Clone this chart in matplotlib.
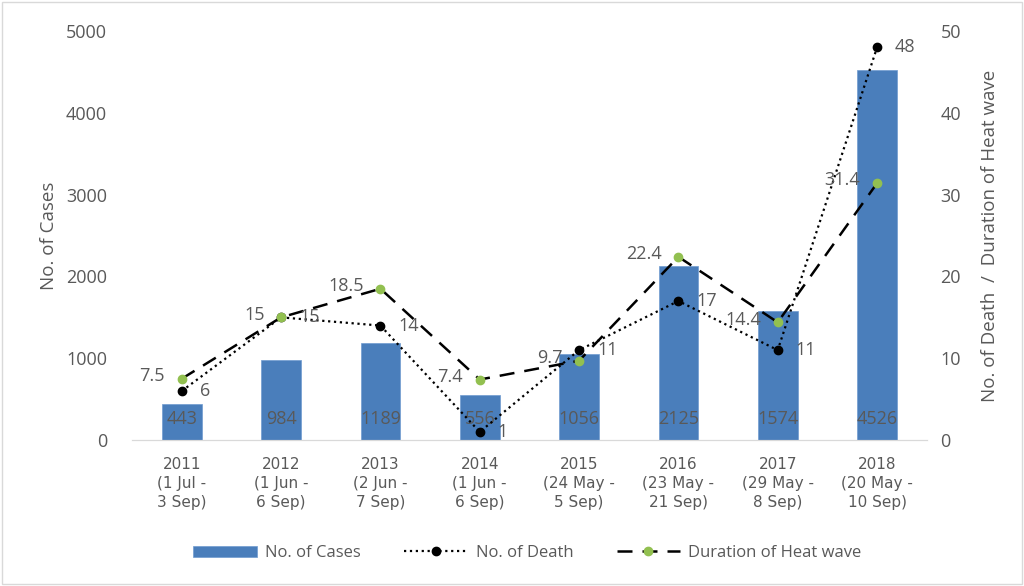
import matplotlib.pyplot as plt
from matplotlib.patches import Rectangle

years = ['2011', '2012', '2013', '2014', '2015', '2016', '2017', '2018']
periods = ['(1 Jul -\n3 Sep)', '(1 Jun -\n6 Sep)', '(2 Jun -\n7 Sep)', '(1 Jun -\n6 Sep)',
           '(24 May -\n5 Sep)', '(23 May -\n21 Sep)', '(29 May -\n8 Sep)', '(20 May -\n10 Sep)']
cases = [443, 984, 1189, 556, 1056, 2125, 1574, 4526]
deaths = [6, 15, 14, 1, 11, 17, 11, 48]
duration = [7.5, 15, 18.5, 7.4, 9.7, 22.4, 14.4, 31.4]

txt = '#595959'
plt.rcParams['font.family'] = ['Open Sans', 'DejaVu Sans']

fig = plt.figure(figsize=(10.24, 5.86), dpi=100)
ax = fig.add_axes([0.129, 0.249, 0.776, 0.698])
ax2 = ax.twinx()

x = list(range(len(years)))
bars = ax.bar(x, cases, width=0.4, color='#4a7ebb', edgecolor='#6f9bd0', linewidth=0.5,
              label='No. of Cases', zorder=2)
for xi, v in zip(x, cases):
    ax.text(xi, 260, str(v), ha='center', va='center', fontsize=13, color=txt, zorder=3)

ax.set_xlim(-0.5, 7.5)
ax.set_ylim(0, 5000)
ax2.set_ylim(0, 50)
ax.set_xticks(x)
ax.set_xticklabels([y + '\n' + p for y, p in zip(years, periods)],
                   fontsize=11, color=txt, family=['Liberation Sans Narrow', 'DejaVu Sans'],
                   linespacing=1.35)
ax.tick_params(axis='x', length=0, pad=12)
ax.tick_params(axis='y', length=0, labelsize=13, labelcolor=txt, pad=18)
ax2.tick_params(axis='y', length=0, labelsize=13, labelcolor=txt, pad=10)
ax.set_yticks(range(0, 5001, 1000))
ax2.set_yticks(range(0, 51, 10))
for a in (ax, ax2):
    for s in ['top', 'left', 'right']:
        a.spines[s].set_visible(False)
    a.spines['bottom'].set_color('#d9d9d9')

ax.set_ylabel('No. of Cases', fontsize=13.5, color=txt, labelpad=6)
ax2.set_ylabel('No. of Death  /  Duration of Heat wave', fontsize=13.5, color=txt, labelpad=14)

ld, = ax2.plot(x, deaths, color='black', linestyle=':', linewidth=1.6, marker='o',
               markersize=6, label='No. of Death', zorder=4)
lh, = ax2.plot(x, duration, color='black', linestyle=(0, (6, 4)), linewidth=1.8, marker='o',
               markersize=6, markerfacecolor='#92c050', markeredgecolor='#92c050',
               label='Duration of Heat wave', zorder=5)

for xi, v in zip(x, deaths):
    ax2.annotate(str(v), (xi, v), xytext=(13, 0), textcoords='offset points',
                 ha='left', va='center', fontsize=13, color=txt, zorder=6)
for xi, v in zip(x, duration):
    ax2.annotate(f'{v:g}', (xi, v), xytext=(-12, 2), textcoords='offset points',
                 ha='right', va='center', fontsize=13, color=txt, zorder=6)

fig.legend(handles=[bars, ld, lh], loc='center', bbox_to_anchor=(0.515, 0.056), ncol=3,
           frameon=False, fontsize=12, labelcolor=txt, handlelength=3.8, columnspacing=2.6,
           handletextpad=0.5)

fig.patches.append(Rectangle((0.002, 0.003), 0.996, 0.994, transform=fig.transFigure,
                             fill=False, edgecolor='#d9d9d9', linewidth=1))

fig.savefig('out.png', dpi=100)
